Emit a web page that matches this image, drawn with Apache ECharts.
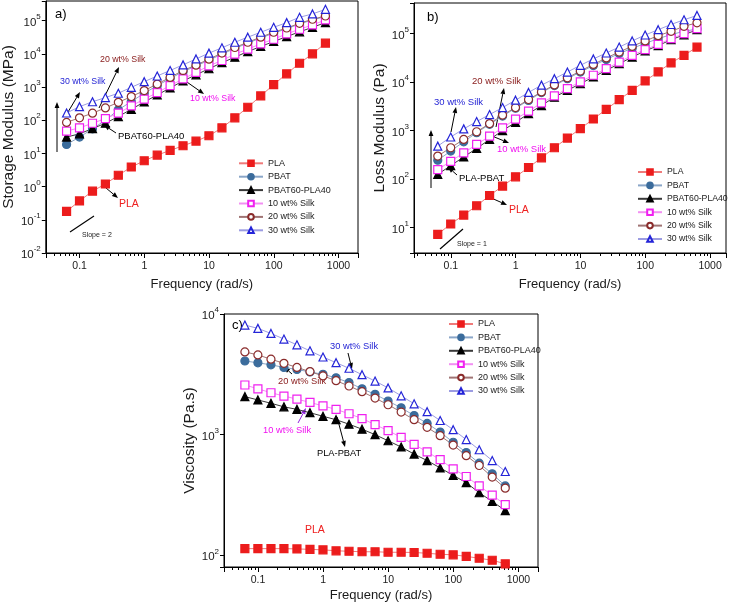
<!DOCTYPE html>
<html><head><meta charset="utf-8">
<script src="https://cdn.jsdelivr.net/npm/echarts/dist/echarts.min.js"></script>
<style>html,body{margin:0;padding:0;background:#fff}#c{width:729px;height:608px}</style>
</head><body><div id="c"></div>
<script>
// ---------- data ----------
const freq = [0.0628,0.0995,0.158,0.25,0.396,0.628,0.995,1.58,2.5,3.96,6.28,9.95,15.8,25,39.6,62.8,99.5,158,250,396,628];
const seriesNames = ['PLA','PBAT','PBAT60-PLA40','10 wt% Silk','20 wt% Silk','30 wt% Silk'];

// a) storage modulus
const gPLA   = [0.18,0.37,0.73,1.2,2.2,3.9,6.0,8.9,12.3,17,23.5,34,59,118,246,540,1180,2500,5200,10000,21000];
const gPBAT  = [18.6,31,55,100,205,365,650,1100,1800,2900,4300,6400,9800,14500,21000,30000,42000,57000,79000,105000,132000];
const gBlend = [31,39,56,81,129,213,355,575,940,1520,2330,3550,5400,7900,11700,16600,23500,33000,46000,63000,87000];
const g10    = [47,59,81,112,163,270,430,680,1100,1750,2750,4350,6300,9800,13800,20000,27500,40000,55000,74000,105000];
const g20    = [86,118,163,235,345,515,780,1230,1950,3150,4550,6900,10500,15500,22300,31700,44600,60000,83000,110000,138000];
const g30    = [165,255,360,480,650,980,1450,2150,3150,4650,7000,10500,15200,22300,31700,44600,63000,87000,126000,159000,219000];

// b) loss modulus
const lPLA   = [7.3,11.9,18.2,28.3,46,72,112,174,275,445,705,1100,1740,2760,4350,6800,10600,16300,25000,35800,53000];
const lPBAT  = [246,380,590,910,1350,2000,2900,4200,6100,8500,11800,16200,22000,29500,39000,50000,63000,79000,96000,112000,125000];
const lBlend = [126,190,288,430,660,1000,1490,2240,3300,4900,6800,9300,12800,17600,24000,33000,44000,57000,75000,95000,121000];
const l10    = [158,233,350,520,770,1140,1730,2520,3730,5200,7400,10200,13900,19000,26000,35800,47000,60000,79000,100000,127000];
const l20    = [300,445,660,950,1400,2100,3000,4400,6300,8800,12300,17000,23300,31600,42000,55000,71000,91000,112000,142000,168000];
const l30    = [480,740,1090,1540,2150,3000,4250,6150,8700,11800,16200,22300,30200,40000,53000,71000,94000,121000,155000,194000,238000];

// c) viscosity
const vPLA   = [113.6,113.6,113.6,113.6,113,112,111,109,108,107,107,106,106,105.5,104,102,101,98,94.5,91,85];
const vPBAT  = [4080,3940,3790,3610,3470,3310,3160,2960,2700,2400,2160,1900,1670,1440,1240,1050,865,710,580,474,376];
const vBlend = [2066,1940,1820,1700,1620,1520,1420,1330,1220,1110,1000,890,790,690,610,530,460,400,330,280,235];
const v10    = [2580,2400,2225,2090,1970,1850,1730,1620,1490,1360,1210,1080,950,830,720,620,520,450,376,315,263];
const v20    = [4850,4580,4220,3900,3610,3330,3070,2800,2530,2270,2010,1770,1540,1330,1150,980,820,670,555,445,360];
const v30    = [8100,7600,6900,6200,5550,4950,4400,3950,3550,3140,2780,2440,2100,1800,1550,1310,1100,910,750,610,495];

const panelData = [
  [gPLA,gPBAT,gBlend,g10,g20,g30],
  [lPLA,lPBAT,lBlend,l10,l20,l30],
  [vPLA,vPBAT,vBlend,v10,v20,v30]
];
const yTitles = ['Storage Modulus (MPa)','Loss Modulus (Pa)','Viscosity (Pa.s)'];
const xTitle = 'Frequency (rad/s)';

// ---------- styles ----------
const F = 'Liberation Sans, Arial, sans-serif';
const styles = [
  {symbol:'rect',     border:'#ec1c1c', fill:'#ec1c1c', line:'#f07a7a'},
  {symbol:'circle',   border:'#3b6c9c', fill:'#3b6c9c', line:'#8aa6c8'},
  {symbol:'triangle', border:'#000000', fill:'#000000', line:'#3a3a3a'},
  {symbol:'rect',     border:'#f020f0', fill:'#ffffff', line:'#f290f2'},
  {symbol:'circle',   border:'#8a2b2b', fill:'#ffffff', line:'#a07474'},
  {symbol:'triangle', border:'#2424d8', fill:'#ffffff', line:'#9c9ce2'}
];

const grids = [
  {left:44, top:1, width:314, height:252},
  {left:414, top:3, width:313, height:250},
  {left:224, top:314, width:314, height:253}
];
const xRanges = [[0.03,2000],[0.027,1760],[0.03,2000]];
const yRanges = [[0.01,3.9e5],[3,4.3e5],[80,1e4]];
const xNameGaps = [25,25,22];
const yNameGaps = [24,22,25];

function isDecade(v){ const e=Math.log10(v); return Math.abs(e-Math.round(e))<1e-6; }
function xfmt(v){ if(!isDecade(v)) return ''; const e=Math.round(Math.log10(v)); return e<0 ? String(Math.pow(10,e).toFixed(-e)) : String(Math.pow(10,e)); }
function yfmt(v){ if(!isDecade(v)) return ''; const e=Math.round(Math.log10(v)); return '{b|10}{s|'+e+'}'; }

const xAxes = grids.map((g,i)=>({
  type:'log', logBase:10, gridIndex:i, min:xRanges[i][0], max:xRanges[i][1],
  name:xTitle, nameLocation:'middle', nameGap:xNameGaps[i],
  nameTextStyle:{fontSize:13, color:'#1a1a1a', fontFamily:F},
  axisLine:{show:true, onZero:false, lineStyle:{color:'#000', width:1}},
  axisTick:{show:true, length:5, lineStyle:{color:'#000'}},
  minorTick:{show:true, splitNumber:9, length:3, lineStyle:{color:'#000'}},
  splitLine:{show:false}, minorSplitLine:{show:false},
  axisLabel:{fontSize:10.5, color:'#1a1a1a', margin:8, fontFamily:F, formatter:xfmt}
}));
const yAxes = grids.map((g,i)=>({
  type:'log', logBase:10, gridIndex:i, min:yRanges[i][0], max:yRanges[i][1],
  name:yTitles[i], nameLocation:'middle', nameGap:yNameGaps[i],
  nameTextStyle:{fontSize:15.5, color:'#1a1a1a', fontFamily:F},
  axisLine:{show:true, onZero:false, lineStyle:{color:'#000', width:1}},
  axisTick:{show:true, length:4, lineStyle:{color:'#000'}},
  splitLine:{show:false},
  axisLabel:{color:'#1a1a1a', margin:5, fontFamily:F, formatter:yfmt,
    rich:{ b:{fontSize:11.5, lineHeight:16, verticalAlign:'bottom', fontFamily:F, color:'#1a1a1a'},
           s:{fontSize:8, lineHeight:9, verticalAlign:'top', fontFamily:F, color:'#1a1a1a'} } }
}));

const series = [];
panelData.forEach((arrs,p)=>{
  arrs.forEach((vals,k)=>{
    const st = styles[k];
    series.push({
      type:'line', name:seriesNames[k], xAxisIndex:p, yAxisIndex:p,
      data: freq.map((f,i)=>[f, vals[i]]),
      symbol:st.symbol, symbolSize:8, showAllSymbol:true,
      itemStyle:{color:st.fill, borderColor:st.border, borderWidth:1.2},
      lineStyle:{color:st.line, width:1},
      emphasis:{disabled:true}, animation:false
    });
  });
});

const legendPos = [{left:238, top:158.8, fs:9},{left:637, top:167.5, fs:8.7},{left:448, top:319.5, fs:9}];
const legends = legendPos.map(pos=>({
  data:seriesNames, orient:'vertical', left:pos.left, top:pos.top, padding:0,
  itemWidth:24, itemHeight:7, itemGap:4.4, selectedMode:false,
  textStyle:{fontSize:pos.fs, color:'#1a1a1a', fontFamily:F}
}));

// ---------- annotations ----------
function arrow(x1,y1,x2,y2,color){
  const ang=Math.atan2(y2-y1,x2-x1), L=6, W=2.4;
  const bx=x2-L*Math.cos(ang), by=y2-L*Math.sin(ang);
  const px=-Math.sin(ang)*W, py=Math.cos(ang)*W;
  return [
    {type:'line', shape:{x1:x1,y1:y1,x2:bx,y2:by}, style:{stroke:color, lineWidth:1}, silent:true},
    {type:'polygon', shape:{points:[[x2,y2],[bx+px,by+py],[bx-px,by-py]]}, style:{fill:color}, silent:true}
  ];
}
function label(x,y,t,color,size){
  return {type:'text', x:x, y:y, silent:true, style:{text:t, fill:color, font:size+'px '+F, textVerticalAlign:'middle', textAlign:'left'}};
}
const BLUE='#2525d5', BROWN='#8b2020', MAG='#f010f0', RED='#ee2020';
const g = [];
// panel a
g.push(label(55,14,'a)','#000',13));
g.push(label(60,82,'30 wt% Silk',BLUE,8.8));
g.push(...arrow(68,112,80,92,'#000'));
g.push(label(100,60,'20 wt% Silk',BROWN,8.8));
g.push(...arrow(99,108,119,67,'#000'));
g.push(label(190,99,'10 wt% Silk',MAG,8.8));
g.push(...arrow(184,80,204,94,'#000'));
g.push(label(118,136,'PBAT60-PLA40','#000',9.5));
g.push(...arrow(116,133,104,125,'#000'));
g.push(label(119,204,'PLA',RED,10.5));
g.push(...arrow(106,188,118,198,'#000'));
g.push(...arrow(57,152,57,102,'#000'));
g.push({type:'line', shape:{x1:70,y1:232,x2:94,y2:216}, style:{stroke:'#000', lineWidth:1.2}, silent:true});
g.push(label(82,235,'Slope = 2','#222',7));
// panel b
g.push(label(427,17,'b)','#000',13));
g.push(label(434,102,'30 wt% Silk',BLUE,9.5));
g.push(...arrow(451,132,456,107,'#000'));
g.push(label(472,81,'20 wt% Silk',BROWN,9.5));
g.push(...arrow(496,127,504,88,'#000'));
g.push(label(497,149,'10 wt% Silk',MAG,9.5));
g.push(...arrow(492,136,509,143,'#000'));
g.push(label(459,178,'PLA-PBAT','#000',9.5));
g.push(...arrow(457,175,448,167,'#000'));
g.push(label(509,210,'PLA',RED,10.5));
g.push(...arrow(489,197,507,205,'#000'));
g.push(...arrow(431,188,431,130,'#000'));
g.push({type:'line', shape:{x1:440,y1:249,x2:463,y2:229}, style:{stroke:'#000', lineWidth:1.2}, silent:true});
g.push(label(457,244,'Slope = 1','#222',7));
// panel c
g.push(label(232,325,'c)','#000',13));
g.push(label(330,346,'30 wt% Silk',BLUE,9.3));
g.push(...arrow(348,353,352,369,'#000'));
g.push(label(278,381,'20 wt% Silk',BROWN,9.3));
g.push(...arrow(292,374,284,367,'#000'));
g.push(label(263,430,'10 wt% Silk',MAG,9.3));
g.push(...arrow(298,423,306,408,'#9020e0'));
g.push(label(317,453,'PLA-PBAT','#000',9.3));
g.push(...arrow(337,417,345,447,'#000'));
g.push(label(305,530,'PLA',RED,10.5));

const chart = echarts.init(document.getElementById('c'), null, {renderer:'canvas'});
chart.setOption({
  animation:false,
  backgroundColor:'#fff',
  grid: grids.map(gr=>Object.assign({show:true, borderColor:'#000', borderWidth:1, backgroundColor:'transparent', containLabel:false}, gr)),
  xAxis:xAxes, yAxis:yAxes, legend:legends, series:series, graphic:g
});
</script></body></html>
